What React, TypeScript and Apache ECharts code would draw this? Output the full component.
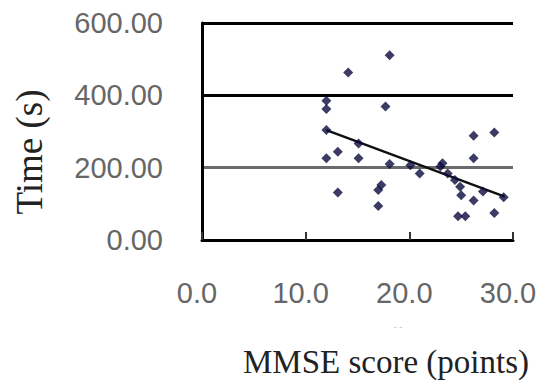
import React, { useEffect, useRef } from "react";
import * as echarts from "echarts";

const mmse = [18.1, 14.1, 12.0, 12.0, 17.7, 12.0, 13.1, 12.0, 15.1, 15.1, 13.1, 18.1, 17.3, 17.0, 17.0, 21.0, 20.1, 23.0, 23.2, 23.7, 24.4, 24.9, 25.0, 26.2, 28.2, 26.2, 27.1, 26.2, 29.1, 28.2, 24.7, 25.4];
const timeSec = [511, 463, 385, 362, 369, 304, 244, 226, 267, 226, 131, 210, 152, 138, 94, 184, 207, 203, 212, 184, 166, 147, 124, 288, 297, 226, 134, 109, 118, 75, 66, 66];
const trendX = [12.0, 29.2];
const trendY = [304, 120];
const xTitle = "MMSE score (points)";
const yTitle = "Time (s)";

export default function App() {
  const ref = useRef<HTMLDivElement>(null);
  useEffect(() => {
    if (!ref.current) return;
    const chart = echarts.init(ref.current, null, { renderer: "svg" });
    chart.setOption({
      animation: false,
      backgroundColor: "#ffffff",
      grid: { left: 202, right: 27, top: 23, bottom: 145 },
      xAxis: {
        type: "value",
        min: 0,
        max: 30,
        interval: 10,
        axisLine: { show: true, lineStyle: { color: "#000", width: 3 } },
        axisTick: { show: true, inside: true, length: 8, lineStyle: { color: "#333", width: 2 } },
        splitLine: { show: false },
        axisLabel: {
          formatter: (v: number) => v.toFixed(1),
          fontFamily: "Liberation Sans, Arial, sans-serif",
          fontSize: 29,
          color: "#666",
          margin: 38,
          padding: [0, 10, 0, 0],
        },
      },
      yAxis: {
        type: "value",
        min: 0,
        max: 600,
        interval: 200,
        axisLine: { show: true, lineStyle: { color: "#000", width: 3 } },
        axisTick: { show: false },
        splitLine: { show: true, lineStyle: { color: ["#000", "#6a6a6a", "#000", "#000"], width: 3 } },
        axisLabel: {
          formatter: (v: number) => v.toFixed(2),
          fontFamily: "Liberation Sans, Arial, sans-serif",
          fontSize: 29,
          color: "#666",
          margin: 39,
        },
      },
      graphic: [
        {
          type: "text",
          x: 29,
          y: 152,
          rotation: Math.PI / 2,
          style: {
            text: yTitle,
            font: "37px 'Liberation Serif', 'Times New Roman', serif",
            fill: "#222",
            textAlign: "center",
            textVerticalAlign: "middle",
          },
        },
        {
          type: "text",
          x: 386,
          y: 362,
          style: {
            text: xTitle,
            font: "33px 'Liberation Serif', 'Times New Roman', serif",
            fill: "#222",
            textAlign: "center",
            textVerticalAlign: "middle",
          },
        },
        {
          type: "text",
          x: 398,
          y: 327,
          style: {
            text: "- -",
            font: "9px sans-serif",
            fill: "#bbb",
            textAlign: "center",
            textVerticalAlign: "middle",
          },
        },
      ],
      series: [
        {
          type: "line",
          data: trendX.map((x, i) => [x, trendY[i]]),
          symbol: "none",
          lineStyle: { color: "#111", width: 2.5 },
          z: 2,
        },
        {
          type: "scatter",
          data: mmse.map((x, i) => [x, timeSec[i]]),
          symbol: "diamond",
          symbolSize: 10,
          itemStyle: { color: "#0a0a3c" },
          z: 3,
        },
      ],
    });
    return () => chart.dispose();
  }, []);
  return <div ref={ref} style={{ width: 540, height: 385, position: "absolute", left: 0, top: 0 }} />;
}
